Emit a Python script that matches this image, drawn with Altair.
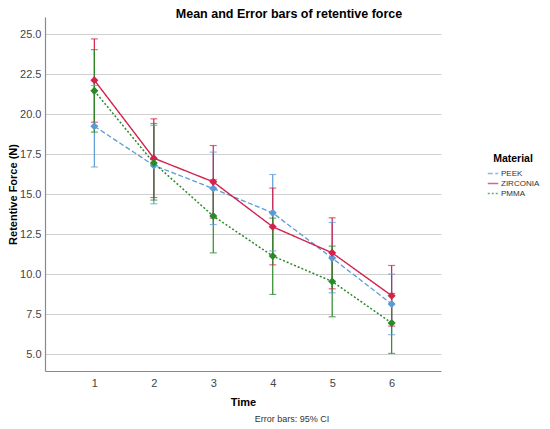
import altair as alt
import pandas as pd

materials = ["PEEK", "ZIRCONIA", "PMMA"]
times = [1, 2, 3, 4, 5, 6]

peek_mean = [19.25, 16.80, 15.35, 13.83, 11.00, 8.13]
peek_lo = [16.70, 14.40, 13.10, 11.45, 8.83, 6.21]
peek_hi = [21.80, 19.30, 17.63, 16.23, 13.23, 10.00]

zir_mean = [22.13, 17.25, 15.77, 12.96, 11.33, 8.65]
zir_lo = [19.50, 14.79, 13.50, 10.58, 9.08, 6.75]
zir_hi = [24.71, 19.71, 18.04, 15.38, 13.52, 10.54]

pmma_mean = [21.46, 16.95, 13.63, 11.13, 9.54, 6.94]
pmma_lo = [18.88, 14.63, 11.33, 8.73, 7.33, 5.04]
pmma_hi = [24.04, 19.42, 15.90, 13.50, 11.75, 8.79]

y_ticks = [5.0, 7.5, 10.0, 12.5, 15.0, 17.5, 20.0, 22.5, 25.0]

series = {
    "PEEK": (peek_mean, peek_lo, peek_hi),
    "ZIRCONIA": (zir_mean, zir_lo, zir_hi),
    "PMMA": (pmma_mean, pmma_lo, pmma_hi),
}
rows = []
for m in materials:
    mean, lo, hi = series[m]
    for t, a, b, c in zip(times, mean, lo, hi):
        rows.append({"Time": t, "Material": m, "mean": a, "lo": b, "hi": c})
df = pd.DataFrame(rows)

colors = ["#5b9bd5", "#d3224e", "#2a8a2a"]
dashes = [[5, 2.5], [1, 0], [2, 2]]
widths = [1.3, 1.5, 2.5]

xs = alt.Scale(domain=[0.17, 6.83], nice=False, zero=False)
ys = alt.Scale(domain=[3.94, 26.08], nice=False, zero=False)
cscale = alt.Scale(domain=materials, range=colors)

legend = alt.Legend(
    title="Material", orient="none", legendX=442, legendY=137,
    symbolType="stroke", symbolSize=110, labelFontSize=8, titleFontSize=10.5,
    titleFont="Liberation Sans", labelFont="Liberation Sans",
    titleFontWeight="bold", titleColor="#000", labelColor="#333",
    rowPadding=-2, labelOffset=2, titleAnchor="middle", titlePadding=3,
)
C = alt.Color("Material:N", scale=cscale, legend=legend, sort=materials)

X = alt.X("Time:Q", scale=xs,
          axis=alt.Axis(values=times, format="d", title="Time", grid=False,
                        ticks=False, labelPadding=6, titlePadding=8))
Y = alt.Y("mean:Q", scale=ys,
          axis=alt.Axis(values=y_ticks, format=".1f", title="Retentive Force (N)",
                        grid=True, ticks=False, labelPadding=4, titlePadding=1))

base = alt.Chart(df)

rules = base.mark_rule(strokeWidth=1.2).encode(
    x=alt.X("Time:Q", scale=xs),
    y=alt.Y("lo:Q", scale=ys),
    y2="hi:Q",
    color=C,
)
cap_lo = base.mark_tick(orient="horizontal", size=7, thickness=1.2).encode(
    x=alt.X("Time:Q", scale=xs),
    y=alt.Y("lo:Q", scale=ys),
    color=C,
)
cap_hi = base.mark_tick(orient="horizontal", size=7, thickness=1.2).encode(
    x=alt.X("Time:Q", scale=xs),
    y=alt.Y("hi:Q", scale=ys),
    color=C,
)
lines = base.mark_line().encode(
    x=X,
    y=Y,
    color=C,
    strokeDash=alt.StrokeDash("Material:N", scale=alt.Scale(domain=materials, range=dashes),
                              legend=legend, sort=materials),
    strokeWidth=alt.StrokeWidth("Material:N", scale=alt.Scale(domain=materials, range=widths),
                                legend=legend, sort=materials),
)
points = base.mark_point(shape="diamond", filled=True, size=65, opacity=1).encode(
    x=alt.X("Time:Q", scale=xs),
    y=alt.Y("mean:Q", scale=ys),
    color=C,
)

note = alt.Chart(pd.DataFrame({"t": ["Error bars: 95% CI"]})).mark_text(
    fontSize=9, font="Liberation Sans", color="#333", align="center", baseline="middle"
).encode(x=alt.value(247), y=alt.value(402), text="t:N")

chart = alt.layer(rules, cap_lo, cap_hi, lines, points, note).properties(
    width=396, height=354,
    title=alt.TitleParams("Mean and Error bars of retentive force", fontSize=12.5,
                          font="Liberation Sans", fontWeight="bold", anchor="middle",
                          dx=46, dy=3, offset=0, color="#000"),
    autosize=alt.AutoSizeParams(type="none"),
    padding={"left": 37, "top": 9, "right": 101, "bottom": 54},
).configure_view(stroke=None).configure_axis(
    domainColor="#8a8a8a", domainWidth=1.2, gridColor="#d0d0d0", gridWidth=1.2,
    labelFont="Liberation Sans", labelFontSize=11, labelColor="#444",
    titleFont="Liberation Sans", titleFontSize=11, titleFontWeight="bold", titleColor="#000",
)

chart.save("out.html", embed_options={"renderer": "svg", "actions": False})
